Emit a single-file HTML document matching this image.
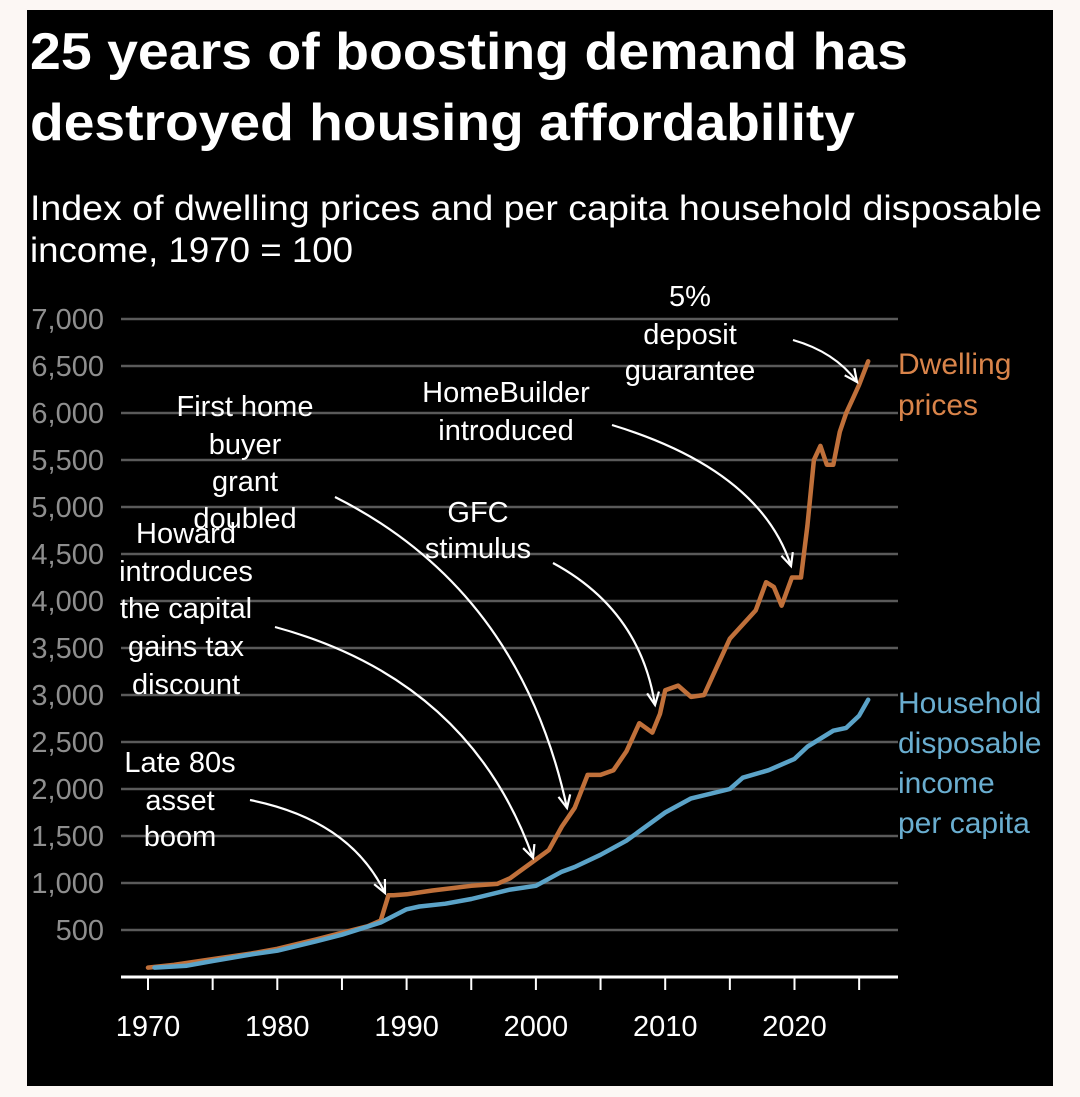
<!DOCTYPE html>
<html><head><meta charset="utf-8"><style>
html,body{margin:0;padding:0;background:#fcf7f4;}
svg{display:block;font-family:"Liberation Sans",sans-serif;}
</style></head><body>
<svg width="1080" height="1097" viewBox="0 0 1080 1097">
<rect x="27" y="10" width="1026" height="1076" fill="#000"/>
<text x="30" y="69" fill="#fff" font-size="52" font-weight="bold" textLength="878" lengthAdjust="spacingAndGlyphs">25 years of boosting demand has</text>
<text x="30" y="140" fill="#fff" font-size="52" font-weight="bold" textLength="825" lengthAdjust="spacingAndGlyphs">destroyed housing affordability</text>
<text x="30" y="220" fill="#fff" font-size="35" textLength="1012" lengthAdjust="spacingAndGlyphs">Index of dwelling prices and per capita household disposable</text>
<text x="30" y="262" fill="#fff" font-size="35" textLength="323" lengthAdjust="spacingAndGlyphs">income, 1970 = 100</text>
<g id="grid"></g>
<g id="axis"></g>
<g id="series"></g>
<g id="annot" fill="#fff" font-size="29" text-anchor="middle"></g>
<text x="898" y="374" fill="#d9844a" font-size="30">Dwelling<tspan x="898" dy="41">prices</tspan></text>
<text x="898" y="713" fill="#6aaed0" font-size="30">Household<tspan x="898" dy="40">disposable</tspan><tspan x="898" dy="40">income</tspan><tspan x="898" dy="40">per capita</tspan></text>
</svg>
<script>
const yTicks=[500,1000,1500,2000,2500,3000,3500,4000,4500,5000,5500,6000,6500,7000];
const xTickYears=[1970,1975,1980,1985,1990,1995,2000,2005,2010,2015,2020,2025];
const xLabelYears=[1970,1980,1990,2000,2010,2020];
const dwellYears=[1970,1972,1975,1978,1980,1983,1985,1987,1988,1988.6,1989,1990,1992,1995,1997,1998,2000,2001,2002,2003,2004,2005,2006,2007,2008,2009,2009.6,2010,2011,2012,2013,2014,2015,2016,2017,2017.8,2018.4,2019,2019.8,2020.5,2021,2021.5,2022,2022.5,2023,2023.5,2024,2024.5,2025,2025.7];
const dwellVals=[100,130,190,250,300,400,470,540,600,870,870,880,920,970,990,1050,1250,1350,1600,1800,2150,2150,2200,2400,2700,2600,2800,3050,3100,2980,3000,3300,3600,3750,3900,4200,4150,3950,4250,4250,4800,5500,5650,5450,5450,5800,6000,6150,6300,6550];
const incYears=[1970.5,1973,1975,1978,1980,1983,1985,1988,1990,1991,1993,1995,1998,2000,2002,2003,2005,2007,2010,2012,2015,2016,2018,2020,2021,2023,2024,2025,2025.7];
const incVals=[100,120,170,240,280,380,450,580,720,750,780,830,930,970,1120,1170,1300,1450,1750,1900,2000,2120,2200,2320,2450,2620,2650,2780,2950];
const NS='http://www.w3.org/2000/svg';
const X=y=>148+(y-1970)*12.93;
const Y=v=>977-v*0.094;
function mk(t,a,p){const e=document.createElementNS(NS,t);for(const k in a)e.setAttribute(k,a[k]);p.appendChild(e);return e;}
const grid=document.getElementById('grid');
yTicks.forEach(v=>{
  const l=mk('line',{x1:121,x2:898,y1:Y(v),y2:Y(v),stroke:'#5a5a5a','stroke-width':2.5},grid);
  
  
  const t=mk('text',{x:104,y:Y(v)+10,fill:'#8e8e8e','font-size':29,'text-anchor':'end'},grid);
  t.textContent=v.toLocaleString('en-US');
  
  
});
const ax=document.getElementById('axis');
const al=mk('line',{x1:121,x2:898,y1:977,y2:977,stroke:'#fff','stroke-width':3},ax);


xTickYears.forEach(yr=>{
  const l=mk('line',{x1:X(yr),x2:X(yr),y1:977,y2:990,stroke:'#fff','stroke-width':2},ax);
  
  
});
xLabelYears.forEach(yr=>{
  const t=mk('text',{x:X(yr),y:1036,fill:'#fff','font-size':29,'text-anchor':'middle'},ax);
  t.textContent=yr;
  
  
});
const s=document.getElementById('series');
function line(xs,vs,c,n){
  const d=xs.map((x,i)=>(i?'L':'M')+X(x).toFixed(1)+','+Y(vs[i]).toFixed(1)).join('');
  const p=mk('path',{d:d,fill:'none',stroke:c,'stroke-width':4.5,'stroke-linejoin':'round','stroke-linecap':'round'},s);
  
  
}
line(dwellYears,dwellVals,'#c0703a','dwelling-prices-line');
line(incYears,incVals,'#5ba3c8','household-income-line');
const an=document.getElementById('annot');
const notes=[
 {n:'annotation-late-80s',x:180,ys:[762,800,836],lines:['Late 80s','asset','boom'],a:[250,800,350,820,385,893]},
 {n:'annotation-howard-cgt',x:186,ys:[533,571,608,646,684],lines:['Howard','introduces','the capital','gains tax','discount'],a:[275,627,470,680,533,858]},
 {n:'annotation-first-home-grant',x:245,ys:[406,444,481,518],lines:['First home','buyer','grant','doubled'],a:[335,497,520,590,567,808]},
 {n:'annotation-gfc',x:478,ys:[512,548],lines:['GFC','stimulus'],a:[553,563,640,610,655,705]},
 {n:'annotation-homebuilder',x:506,ys:[392,430],lines:['HomeBuilder','introduced'],a:[612,425,760,470,791,566]},
 {n:'annotation-5pct-deposit',x:690,ys:[296,334,370],lines:['5%','deposit','guarantee'],a:[793,340,835,352,857,382]}
];
notes.forEach(o=>{
  const t=mk('text',{x:o.x,y:o.ys[0]+10},an);
  
  
  o.lines.forEach((L,i)=>{const ts=mk('tspan',{x:o.x,y:o.ys[i]+10},t);ts.textContent=L;});
  const [x0,y0,cx,cy,x1,y1]=o.a;
  const p=mk('path',{d:`M${x0},${y0}Q${cx},${cy} ${x1},${y1}`,fill:'none',stroke:'#fff','stroke-width':2.2},an);
  
  
  const ang=Math.atan2(y1-cy,x1-cx),h=14;
  const a1=ang+2.7,a2=ang-2.7;
  const hd=mk('path',{d:`M${x1+h*Math.cos(a1)},${y1+h*Math.sin(a1)}L${x1},${y1}L${x1+h*Math.cos(a2)},${y1+h*Math.sin(a2)}`,fill:'none',stroke:'#fff','stroke-width':2.2},an);
  
  
});
</script>
</body></html>
